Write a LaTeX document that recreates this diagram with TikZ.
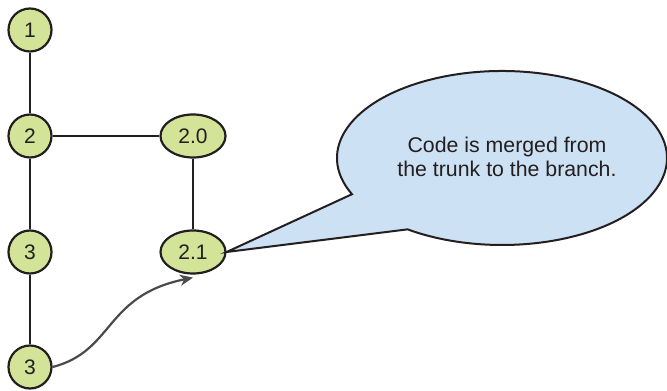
\documentclass[tikz,border=0pt]{standalone}
\usepackage{fontspec}
\setmainfont{Liberation Sans}
\usetikzlibrary{shapes.geometric,arrows.meta,calc}
\definecolor{inkdark}{HTML}{231F20}
\definecolor{revgreen}{HTML}{D3E397}
\definecolor{calloutblue}{HTML}{CDE1F4}
\definecolor{mergegray}{HTML}{4A4A4A}
\tikzset{
  x=1pt, y=1pt,
  every node/.style={text=inkdark, font=\fontsize{21}{23.5}\selectfont},
  rev/.style={circle, draw=inkdark, line width=2.2pt, fill=revgreen,
              minimum size=43pt, inner sep=0pt},
  branchrev/.style={ellipse, draw=inkdark, line width=2.2pt, fill=revgreen,
              minimum width=65pt, minimum height=43pt, inner sep=0pt},
  link/.style={draw=inkdark, line width=2.2pt},
  merge/.style={draw=mergegray, line width=2.2pt,
                -{Stealth[length=13pt, width=11pt, inset=4pt]}},
  callout/.style={draw=inkdark, line width=2pt, fill=calloutblue, line join=miter}
}
\begin{document}
\begin{tikzpicture}
\useasboundingbox (0,0) rectangle (667,391);

% revisions
\node[rev] (r1)  at (30,361) {1};
\node[rev] (r2)  at (30,255) {2};
\node[rev] (r3a) at (30,139) {3};
\node[rev] (r3b) at (30,24)  {3};
\node[branchrev] (b20) at (193,255) {2.0};
\node[branchrev] (b21) at (193,139) {2.1};

% history lines
\draw[link] (r1) -- (r2);
\draw[link] (r2) -- (r3a);
\draw[link] (r3a) -- (r3b);
\draw[link] (r2) -- (b20);
\draw[link] (b20) -- (b21);

% merge from trunk to branch
\draw[merge] (r3b.east) .. controls +(62,16) and +(-89,-18) .. ([yshift=-3pt]b21.south);

% speech bubble pointing at the branch revision
\coordinate (bc) at (502,233);
\path[callout] ($(bc)+(204.6:165 and 87)$)
  arc[start angle=204.6, end angle=-124.9, x radius=165pt, y radius=87pt]
  -- (b21.east) -- cycle;
\node[align=center, font=\fontsize{21.3}{23.5}\selectfont] (note) at (507,234)
  {Code is merged from\\the trunk to the branch.};
\end{tikzpicture}
\end{document}
